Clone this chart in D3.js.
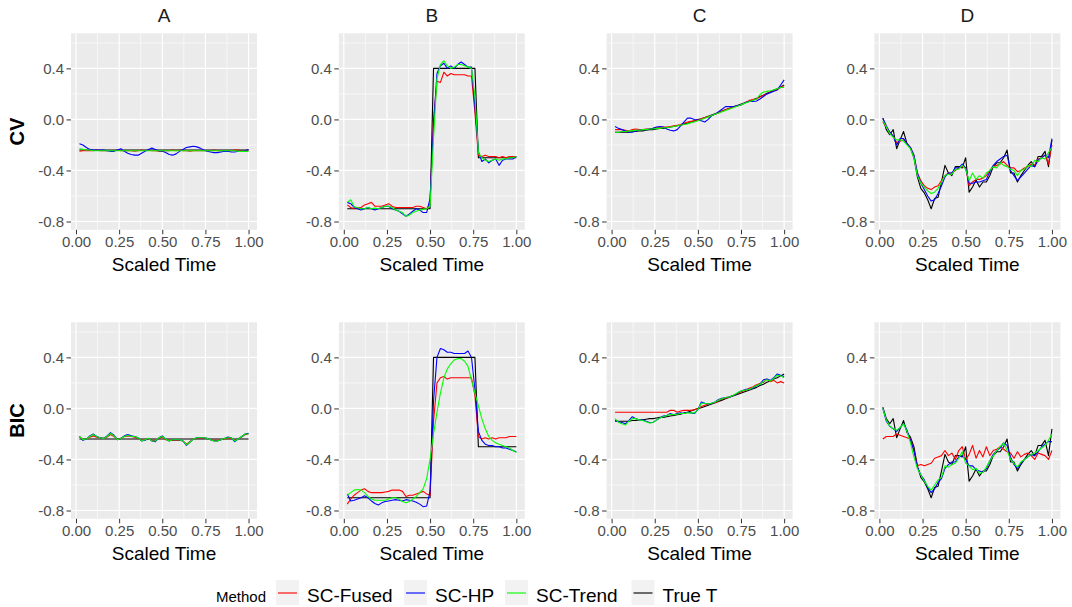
<!DOCTYPE html>
<html>
<head>
<meta charset="utf-8">
<script src="https://cdn.jsdelivr.net/npm/d3@7"></script>
<style>
  body { margin: 0; background: #ffffff; }
  svg { display: block; font-family: "Liberation Sans", Arial, sans-serif; }
</style>
</head>
<body>
<script>
// ---- data -------------------------------------------------------------
const scaledTime = [
  0.02,0.04,0.06,0.08,0.10,0.12,0.14,0.16,0.18,0.20,
  0.22,0.24,0.26,0.28,0.30,0.32,0.34,0.36,0.38,0.40,
  0.42,0.44,0.46,0.48,0.50,0.52,0.54,0.56,0.58,0.60,
  0.62,0.64,0.66,0.68,0.70,0.72,0.74,0.76,0.78,0.80,
  0.82,0.84,0.86,0.88,0.90,0.92,0.94,0.96,0.98,1.00];

const scenarios = ["A", "B", "C", "D"];
const criteria = ["CV", "BIC"];
const methods = ["SC-Fused", "SC-HP", "SC-Trend", "True T"];
const methodColors = ["#FF0000", "#0000FF", "#00FF00", "#000000"];
const yTickValues = [-0.8, -0.4, 0.0, 0.4];
const xTickValues = [0.00, 0.25, 0.50, 0.75, 1.00];

// true trends (shared by both selection criteria)
const trueA = [
  -0.24,-0.24,-0.24,-0.24,-0.24,-0.24,-0.24,-0.24,-0.24,-0.24,
  -0.24,-0.24,-0.24,-0.24,-0.24,-0.24,-0.24,-0.24,-0.24,-0.24,
  -0.24,-0.24,-0.24,-0.24,-0.24,-0.24,-0.24,-0.24,-0.24,-0.24,
  -0.24,-0.24,-0.24,-0.24,-0.24,-0.24,-0.24,-0.24,-0.24,-0.24,
  -0.24,-0.24,-0.24,-0.24,-0.24,-0.24,-0.24,-0.24,-0.24,-0.24];
const trueB = [
  -0.70,-0.70,-0.70,-0.70,-0.70,-0.70,-0.70,-0.70,-0.70,-0.70,
  -0.70,-0.70,-0.70,-0.70,-0.70,-0.70,-0.70,-0.70,-0.70,-0.70,
  -0.70,-0.70,-0.70,-0.70,-0.70,0.40,0.40,0.40,0.40,0.40,
  0.40,0.40,0.40,0.40,0.40,0.40,0.40,0.40,-0.30,-0.30,
  -0.30,-0.30,-0.30,-0.30,-0.30,-0.30,-0.30,-0.30,-0.30,-0.30];
const trueC = [
  -0.10,-0.10,-0.10,-0.10,-0.10,-0.095,-0.095,-0.09,-0.09,-0.085,
  -0.08,-0.08,-0.075,-0.07,-0.07,-0.065,-0.06,-0.055,-0.05,-0.045,
  -0.035,-0.03,-0.02,-0.01,0.0,0.005,0.015,0.025,0.035,0.045,
  0.055,0.065,0.075,0.085,0.095,0.105,0.115,0.125,0.135,0.145,
  0.155,0.165,0.18,0.19,0.205,0.215,0.23,0.24,0.255,0.27];
const trueD = [
  0.01,-0.08,-0.12,-0.08,-0.23,-0.16,-0.095,-0.19,-0.225,-0.30,
  -0.45,-0.54,-0.575,-0.63,-0.70,-0.62,-0.61,-0.49,-0.36,-0.42,
  -0.44,-0.37,-0.37,-0.38,-0.30,-0.57,-0.53,-0.475,-0.53,-0.49,
  -0.49,-0.44,-0.37,-0.34,-0.34,-0.30,-0.24,-0.42,-0.42,-0.49,
  -0.44,-0.40,-0.36,-0.33,-0.37,-0.29,-0.29,-0.25,-0.37,-0.16];

// CV-selected estimates
const cvFusedA = [
  -0.25,-0.245,-0.245,-0.245,-0.245,-0.24,-0.245,-0.245,-0.245,-0.245,
  -0.245,-0.24,-0.245,-0.245,-0.245,-0.245,-0.25,-0.245,-0.24,-0.245,
  -0.24,-0.245,-0.245,-0.25,-0.25,-0.245,-0.245,-0.24,-0.245,-0.24,
  -0.245,-0.245,-0.25,-0.245,-0.245,-0.245,-0.245,-0.245,-0.245,-0.24,
  -0.245,-0.245,-0.25,-0.245,-0.245,-0.24,-0.24,-0.245,-0.245,-0.24];
const cvHpA = [
  -0.19,-0.20,-0.22,-0.235,-0.24,-0.24,-0.24,-0.24,-0.245,-0.25,
  -0.25,-0.24,-0.23,-0.25,-0.265,-0.275,-0.28,-0.28,-0.265,-0.25,
  -0.235,-0.225,-0.235,-0.245,-0.25,-0.26,-0.275,-0.28,-0.27,-0.25,
  -0.235,-0.22,-0.215,-0.21,-0.215,-0.225,-0.24,-0.25,-0.255,-0.26,
  -0.26,-0.255,-0.25,-0.25,-0.255,-0.255,-0.25,-0.25,-0.245,-0.235];
const cvTrendA = [
  -0.23,-0.235,-0.24,-0.24,-0.245,-0.245,-0.245,-0.245,-0.245,-0.245,
  -0.245,-0.245,-0.245,-0.245,-0.245,-0.245,-0.245,-0.245,-0.245,-0.245,
  -0.245,-0.245,-0.245,-0.245,-0.245,-0.245,-0.245,-0.245,-0.245,-0.245,
  -0.245,-0.245,-0.245,-0.245,-0.245,-0.245,-0.245,-0.245,-0.245,-0.245,
  -0.245,-0.245,-0.245,-0.245,-0.245,-0.245,-0.25,-0.25,-0.25,-0.25];

const cvFusedB = [
  -0.67,-0.69,-0.70,-0.69,-0.69,-0.67,-0.66,-0.65,-0.68,-0.68,
  -0.68,-0.67,-0.66,-0.68,-0.69,-0.69,-0.69,-0.69,-0.69,-0.69,
  -0.68,-0.68,-0.69,-0.70,-0.66,0.00,0.30,0.29,0.37,0.34,
  0.36,0.35,0.35,0.35,0.35,0.34,0.34,0.05,-0.28,-0.29,
  -0.28,-0.29,-0.29,-0.29,-0.30,-0.29,-0.30,-0.29,-0.29,-0.29];
const cvHpB = [
  -0.65,-0.66,-0.69,-0.70,-0.71,-0.70,-0.69,-0.70,-0.71,-0.70,
  -0.69,-0.68,-0.68,-0.70,-0.71,-0.72,-0.74,-0.76,-0.74,-0.72,
  -0.70,-0.71,-0.73,-0.73,-0.62,-0.05,0.36,0.42,0.44,0.40,
  0.42,0.40,0.43,0.45,0.43,0.41,0.41,0.10,-0.25,-0.33,
  -0.31,-0.34,-0.32,-0.31,-0.36,-0.32,-0.31,-0.31,-0.31,-0.29];
const cvTrendB = [
  -0.65,-0.63,-0.685,-0.69,-0.70,-0.70,-0.69,-0.70,-0.695,-0.70,
  -0.69,-0.68,-0.68,-0.69,-0.71,-0.72,-0.73,-0.76,-0.75,-0.73,
  -0.72,-0.71,-0.705,-0.70,-0.68,-0.15,0.32,0.43,0.46,0.42,
  0.40,0.41,0.43,0.43,0.42,0.41,0.40,0.18,-0.26,-0.30,
  -0.32,-0.33,-0.32,-0.31,-0.32,-0.31,-0.31,-0.30,-0.30,-0.29];

const cvFusedC = [
  -0.08,-0.08,-0.08,-0.085,-0.09,-0.08,-0.075,-0.08,-0.08,-0.075,
  -0.075,-0.07,-0.065,-0.06,-0.06,-0.06,-0.055,-0.05,-0.045,-0.04,
  -0.03,-0.02,-0.015,-0.01,-0.005,0.005,0.015,0.02,0.03,0.04,
  0.05,0.065,0.075,0.085,0.095,0.105,0.11,0.12,0.135,0.15,
  0.155,0.16,0.175,0.19,0.20,0.215,0.225,0.235,0.25,0.265];
const cvHpC = [
  -0.055,-0.07,-0.08,-0.09,-0.10,-0.10,-0.09,-0.085,-0.08,-0.08,
  -0.075,-0.07,-0.06,-0.055,-0.06,-0.075,-0.085,-0.09,-0.08,-0.05,
  -0.02,0.01,0.01,0.0,-0.005,-0.01,-0.02,0.0,0.03,0.04,
  0.06,0.08,0.10,0.10,0.10,0.105,0.11,0.12,0.135,0.14,
  0.14,0.145,0.16,0.18,0.20,0.21,0.22,0.23,0.27,0.31];
const cvTrendC = [
  -0.10,-0.10,-0.095,-0.095,-0.09,-0.09,-0.085,-0.085,-0.08,-0.08,
  -0.075,-0.075,-0.07,-0.07,-0.065,-0.065,-0.06,-0.055,-0.05,-0.045,
  -0.04,-0.035,-0.025,-0.02,-0.01,0.0,0.01,0.02,0.03,0.04,
  0.05,0.06,0.07,0.08,0.09,0.10,0.11,0.12,0.13,0.14,
  0.15,0.16,0.195,0.215,0.22,0.225,0.23,0.24,0.25,0.25];

const cvFusedD = [
  -0.02,-0.06,-0.10,-0.13,-0.18,-0.17,-0.16,-0.19,-0.22,-0.28,
  -0.42,-0.48,-0.52,-0.54,-0.55,-0.53,-0.52,-0.48,-0.44,-0.42,
  -0.42,-0.40,-0.38,-0.37,-0.38,-0.52,-0.49,-0.47,-0.47,-0.46,
  -0.44,-0.40,-0.37,-0.36,-0.35,-0.33,-0.36,-0.38,-0.38,-0.41,
  -0.40,-0.38,-0.37,-0.35,-0.36,-0.31,-0.30,-0.28,-0.35,-0.20];
const cvHpD = [
  0.01,-0.05,-0.10,-0.13,-0.20,-0.15,-0.15,-0.19,-0.22,-0.28,
  -0.42,-0.50,-0.55,-0.60,-0.64,-0.63,-0.58,-0.52,-0.45,-0.42,
  -0.42,-0.38,-0.38,-0.35,-0.38,-0.50,-0.50,-0.49,-0.49,-0.48,
  -0.47,-0.41,-0.36,-0.33,-0.31,-0.29,-0.28,-0.40,-0.44,-0.48,
  -0.45,-0.42,-0.39,-0.36,-0.37,-0.32,-0.30,-0.28,-0.30,-0.15];
const cvTrendD = [
  -0.01,-0.06,-0.11,-0.14,-0.16,-0.16,-0.17,-0.20,-0.23,-0.30,
  -0.44,-0.50,-0.53,-0.56,-0.58,-0.57,-0.54,-0.49,-0.44,-0.43,
  -0.43,-0.39,-0.39,-0.36,-0.39,-0.48,-0.42,-0.47,-0.44,-0.46,
  -0.42,-0.40,-0.37,-0.38,-0.34,-0.36,-0.37,-0.39,-0.40,-0.44,
  -0.40,-0.39,-0.36,-0.37,-0.32,-0.33,-0.30,-0.31,-0.26,-0.22];

// BIC-selected estimates
const bicFusedA = [
  -0.22,-0.245,-0.24,-0.225,-0.215,-0.225,-0.23,-0.235,-0.225,-0.205,
  -0.22,-0.24,-0.235,-0.22,-0.215,-0.22,-0.225,-0.235,-0.25,-0.245,
  -0.24,-0.25,-0.25,-0.235,-0.225,-0.245,-0.25,-0.25,-0.25,-0.25,
  -0.255,-0.28,-0.26,-0.24,-0.235,-0.235,-0.235,-0.235,-0.245,-0.25,
  -0.25,-0.245,-0.24,-0.235,-0.235,-0.25,-0.24,-0.225,-0.205,-0.20];
const bicHpA = [
  -0.22,-0.25,-0.24,-0.215,-0.20,-0.22,-0.23,-0.235,-0.215,-0.19,
  -0.21,-0.245,-0.235,-0.215,-0.205,-0.215,-0.22,-0.23,-0.255,-0.25,
  -0.235,-0.255,-0.26,-0.23,-0.215,-0.24,-0.255,-0.245,-0.245,-0.245,
  -0.255,-0.29,-0.265,-0.24,-0.23,-0.23,-0.23,-0.235,-0.245,-0.255,
  -0.255,-0.245,-0.235,-0.225,-0.23,-0.26,-0.24,-0.22,-0.20,-0.195];
const bicTrendA = [
  -0.22,-0.245,-0.24,-0.22,-0.205,-0.22,-0.23,-0.235,-0.22,-0.195,
  -0.215,-0.245,-0.235,-0.22,-0.21,-0.22,-0.22,-0.23,-0.255,-0.245,
  -0.235,-0.255,-0.255,-0.23,-0.22,-0.24,-0.255,-0.245,-0.245,-0.245,
  -0.255,-0.285,-0.265,-0.24,-0.23,-0.23,-0.23,-0.235,-0.245,-0.255,
  -0.255,-0.245,-0.235,-0.23,-0.23,-0.255,-0.24,-0.22,-0.20,-0.20];

const bicFusedB = [
  -0.75,-0.71,-0.68,-0.66,-0.64,-0.63,-0.65,-0.66,-0.66,-0.66,
  -0.66,-0.655,-0.65,-0.64,-0.64,-0.64,-0.65,-0.69,-0.68,-0.68,
  -0.67,-0.66,-0.65,-0.67,-0.68,-0.10,0.20,0.24,0.25,0.23,
  0.24,0.24,0.24,0.24,0.24,0.24,0.24,0.10,-0.22,-0.24,
  -0.23,-0.24,-0.23,-0.24,-0.23,-0.23,-0.23,-0.22,-0.22,-0.22];
const bicHpB = [
  -0.67,-0.725,-0.72,-0.71,-0.70,-0.685,-0.70,-0.725,-0.745,-0.757,
  -0.74,-0.73,-0.725,-0.72,-0.715,-0.72,-0.725,-0.715,-0.72,-0.725,
  -0.735,-0.75,-0.77,-0.765,-0.65,0.06,0.40,0.47,0.46,0.44,
  0.44,0.43,0.43,0.43,0.43,0.45,0.40,0.15,-0.18,-0.25,
  -0.28,-0.29,-0.29,-0.30,-0.30,-0.31,-0.31,-0.32,-0.33,-0.34];
const bicTrendB = [
  -0.68,-0.66,-0.64,-0.635,-0.64,-0.66,-0.69,-0.71,-0.72,-0.72,
  -0.72,-0.72,-0.71,-0.70,-0.70,-0.71,-0.73,-0.74,-0.73,-0.71,
  -0.69,-0.66,-0.63,-0.55,-0.40,-0.20,-0.03,0.12,0.24,0.31,
  0.35,0.38,0.39,0.39,0.37,0.33,0.22,0.12,0.02,-0.08,
  -0.16,-0.22,-0.25,-0.27,-0.28,-0.29,-0.30,-0.31,-0.33,-0.345];

const bicFusedC = [
  -0.03,-0.03,-0.03,-0.03,-0.03,-0.03,-0.03,-0.03,-0.03,-0.03,
  -0.03,-0.03,-0.03,-0.03,-0.03,-0.03,-0.015,-0.015,-0.03,-0.02,
  -0.015,-0.015,-0.015,-0.01,0.0,0.015,0.025,0.035,0.04,0.045,
  0.06,0.075,0.08,0.09,0.10,0.11,0.125,0.135,0.145,0.16,
  0.17,0.185,0.195,0.205,0.23,0.21,0.22,0.20,0.21,0.20];
const bicHpC = [
  -0.09,-0.105,-0.11,-0.12,-0.095,-0.065,-0.08,-0.09,-0.09,-0.10,
  -0.11,-0.11,-0.09,-0.075,-0.06,-0.055,-0.04,-0.05,-0.04,-0.035,
  -0.04,-0.03,-0.035,-0.04,-0.01,0.05,0.04,0.035,0.04,0.05,
  0.07,0.08,0.085,0.09,0.10,0.11,0.13,0.14,0.15,0.15,
  0.16,0.18,0.19,0.225,0.23,0.22,0.24,0.27,0.26,0.25];
const bicTrendC = [
  -0.08,-0.11,-0.12,-0.13,-0.10,-0.08,-0.08,-0.09,-0.095,-0.105,
  -0.115,-0.11,-0.09,-0.075,-0.065,-0.055,-0.045,-0.05,-0.045,-0.04,
  -0.04,-0.035,-0.035,-0.035,-0.01,0.04,0.04,0.035,0.04,0.05,
  0.065,0.075,0.085,0.09,0.10,0.115,0.13,0.14,0.145,0.15,
  0.165,0.18,0.19,0.21,0.225,0.215,0.235,0.26,0.255,0.24];

const bicFusedD = [
  -0.24,-0.22,-0.22,-0.22,-0.20,-0.21,-0.22,-0.23,-0.24,-0.33,
  -0.45,-0.44,-0.45,-0.44,-0.43,-0.39,-0.38,-0.37,-0.33,-0.37,
  -0.35,-0.40,-0.33,-0.30,-0.40,-0.36,-0.29,-0.39,-0.33,-0.38,
  -0.30,-0.37,-0.33,-0.32,-0.30,-0.32,-0.34,-0.35,-0.39,-0.34,
  -0.38,-0.36,-0.35,-0.37,-0.40,-0.35,-0.36,-0.37,-0.40,-0.33];
const bicHpD = [
  0.0,-0.10,-0.14,-0.16,-0.18,-0.15,-0.12,-0.17,-0.25,-0.33,
  -0.46,-0.52,-0.56,-0.62,-0.66,-0.63,-0.58,-0.55,-0.47,-0.44,
  -0.42,-0.42,-0.38,-0.37,-0.40,-0.45,-0.45,-0.48,-0.49,-0.50,
  -0.47,-0.41,-0.36,-0.33,-0.31,-0.27,-0.29,-0.38,-0.44,-0.47,
  -0.43,-0.40,-0.38,-0.36,-0.37,-0.34,-0.30,-0.28,-0.26,-0.26];
const bicTrendD = [
  0.0,-0.09,-0.14,-0.16,-0.17,-0.15,-0.12,-0.18,-0.27,-0.38,
  -0.47,-0.52,-0.57,-0.61,-0.64,-0.60,-0.56,-0.54,-0.45,-0.46,
  -0.44,-0.43,-0.39,-0.34,-0.43,-0.45,-0.48,-0.47,-0.51,-0.50,
  -0.46,-0.41,-0.37,-0.33,-0.30,-0.27,-0.33,-0.40,-0.43,-0.46,
  -0.42,-0.40,-0.38,-0.36,-0.35,-0.33,-0.31,-0.29,-0.25,-0.20];

// ---- panel table ------------------------------------------------------
// each panel lists its curves in the same order as `methods`
const panelTable = [
  { row: 0, col: 0, curves: [cvFusedA, cvHpA, cvTrendA, trueA] },
  { row: 0, col: 1, curves: [cvFusedB, cvHpB, cvTrendB, trueB] },
  { row: 0, col: 2, curves: [cvFusedC, cvHpC, cvTrendC, trueC] },
  { row: 0, col: 3, curves: [cvFusedD, cvHpD, cvTrendD, trueD] },
  { row: 1, col: 0, curves: [bicFusedA, bicHpA, bicTrendA, trueA] },
  { row: 1, col: 1, curves: [bicFusedB, bicHpB, bicTrendB, trueB] },
  { row: 1, col: 2, curves: [bicFusedC, bicHpC, bicTrendC, trueC] },
  { row: 1, col: 3, curves: [bicFusedD, bicHpD, bicTrendD, trueD] }
];

// ---- layout -----------------------------------------------------------
const width = 1072, height = 607;
const panelW = 186, panelH = 196.5;
const panelLeft0 = 71, colStep = 267.8;
const panelTop0 = 33.3, rowStep = 289;

const svg = d3.select("body").append("svg")
  .attr("width", width).attr("height", height);

const x = d3.scaleLinear().domain([-0.029, 1.049]).range([0, panelW]);
const y = d3.scaleLinear().domain([-0.865, 0.675]).range([panelH, 0]);
const xMinor = [0.125, 0.375, 0.625, 0.875];
const yMinor = [-0.6, -0.2, 0.2, 0.6];

const line = d3.line()
  .x((d, i) => x(scaledTime[i]))
  .y(d => y(d));

// draw the true trend underneath the estimates
const drawOrder = [3, 0, 1, 2];

panelTable.forEach(p => {
  const g = svg.append("g")
    .attr("transform", `translate(${panelLeft0 + p.col * colStep},${panelTop0 + p.row * rowStep})`);

  g.append("rect")
    .attr("width", panelW).attr("height", panelH)
    .attr("fill", "#EBEBEB");

  // minor grid
  g.selectAll(".xminor").data(xMinor).join("line")
    .attr("x1", d => x(d)).attr("x2", d => x(d))
    .attr("y1", 0).attr("y2", panelH)
    .attr("stroke", "#FFFFFF").attr("stroke-width", 0.6);
  g.selectAll(".yminor").data(yMinor).join("line")
    .attr("y1", d => y(d)).attr("y2", d => y(d))
    .attr("x1", 0).attr("x2", panelW)
    .attr("stroke", "#FFFFFF").attr("stroke-width", 0.6);

  // major grid
  g.selectAll(".xmajor").data(xTickValues).join("line")
    .attr("x1", d => x(d)).attr("x2", d => x(d))
    .attr("y1", 0).attr("y2", panelH)
    .attr("stroke", "#FFFFFF").attr("stroke-width", 1.2);
  g.selectAll(".ymajor").data(yTickValues).join("line")
    .attr("y1", d => y(d)).attr("y2", d => y(d))
    .attr("x1", 0).attr("x2", panelW)
    .attr("stroke", "#FFFFFF").attr("stroke-width", 1.2);

  // curves
  drawOrder.forEach(k => {
    g.append("path")
      .datum(p.curves[k])
      .attr("d", line)
      .attr("fill", "none")
      .attr("stroke", methodColors[k])
      .attr("stroke-width", 1.1)
      .attr("stroke-linejoin", "round");
  });

  // axes
  const yAxis = g.append("g")
    .call(d3.axisLeft(y).tickValues(yTickValues)
      .tickFormat(d => d.toFixed(1)).tickSize(4.5).tickPadding(2.5));
  const xAxis = g.append("g")
    .attr("transform", `translate(0,${panelH})`)
    .call(d3.axisBottom(x).tickValues(xTickValues)
      .tickFormat(d => d.toFixed(2)).tickSize(4.5).tickPadding(2));
  [yAxis, xAxis].forEach(a => {
    a.select(".domain").remove();
    a.selectAll(".tick line").attr("stroke", "#333333").attr("stroke-width", 1);
    a.selectAll(".tick text")
      .attr("fill", "#4D4D4D")
      .style("font-size", "15px")
      .style("font-family", '"Liberation Sans", Arial, sans-serif');
  });

  g.append("text")
    .attr("x", panelW / 2).attr("y", panelH + 41.5)
    .attr("text-anchor", "middle")
    .style("font-size", "19px").attr("fill", "#000")
    .text("Scaled Time");

  if (p.row === 0) {
    g.append("text")
      .attr("x", panelW / 2).attr("y", -11.6)
      .attr("text-anchor", "middle")
      .style("font-size", "19px").attr("fill", "#1A1A1A")
      .text(scenarios[p.col]);
  }
  if (p.col === 0) {
    g.append("text")
      .attr("transform", `translate(${-47},${panelH / 2}) rotate(-90)`)
      .attr("text-anchor", "middle")
      .style("font-size", "20px").style("font-weight", "bold").attr("fill", "#000")
      .text(criteria[p.row]);
  }
});

// ---- legend -----------------------------------------------------------
const legend = svg.append("g");
legend.append("text")
  .attr("x", 216).attr("y", 601.5)
  .style("font-size", "15px").attr("fill", "#000")
  .text("Method");

const keyX = [276, 404, 505, 631.5];
methods.forEach((m, i) => {
  const k = legend.append("g").attr("transform", `translate(${keyX[i]},580)`);
  k.append("rect").attr("width", 23).attr("height", 25).attr("fill", "#F2F2F2");
  k.append("line")
    .attr("x1", 2).attr("x2", 21).attr("y1", 13).attr("y2", 13)
    .attr("stroke", methodColors[i]).attr("stroke-width", 1.4).attr("stroke-opacity", 0.8);
  k.append("text")
    .attr("x", 31).attr("y", 22)
    .style("font-size", "19px").attr("fill", "#000")
    .text(m);
});
</script>
</body>
</html>
